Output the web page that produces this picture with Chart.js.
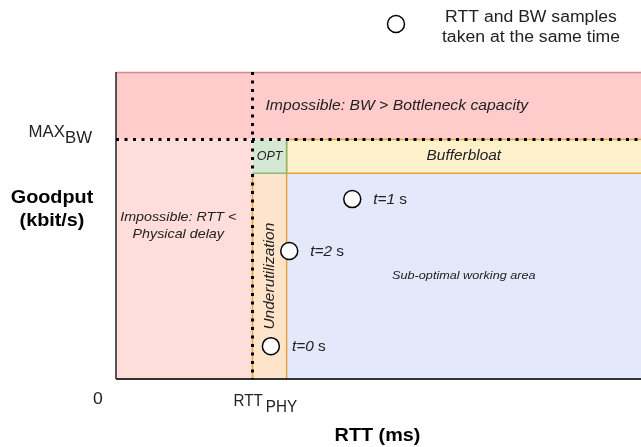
<!DOCTYPE html>
<html>
<head>
<meta charset="utf-8">
<script src="https://cdn.jsdelivr.net/npm/chart.js@4"></script>
<style>
body { margin: 0; background: #fff; }
#wrap { width: 641px; height: 447px; }
</style>
</head>
<body>
<div id="wrap"><canvas id="rttChart" width="641" height="447"></canvas></div>
<script>
// axis ranges (the sketch has no real units, just 0..100)
var rttMax = 100;
var bwMax = 100;

// thresholds
var rttPhy = 26;
var rttOpt = 32.5;
var maxBw = 78;
var bwOpt = 67;

// samples (circles)
var sampleRtt = [29.5, 45, 33];
var sampleBw = [10.7, 58.6, 41.7];
var sampleTime = ["0", "1", "2"];

// tick labels
var xTickVals = [rttPhy];
var xTickMain = ["RTT"];
var xTickSub = ["PHY"];
var yTickVals = [maxBw];
var yTickMain = ["MAX"];
var yTickSub = ["BW"];
var originLabel = "0";

// zones
var zoneNames = ["Impossible: BW > Bottleneck capacity", "Impossible: RTT <|Physical delay", "OPT", "Bufferbloat", "Underutilization", "Sub-optimal working area"];
var zoneX0 = [0, 0, rttPhy, rttOpt, rttPhy, rttOpt];
var zoneX1 = [rttMax, rttPhy, rttOpt, rttMax, rttOpt, rttMax];
var zoneY0 = [maxBw, 0, bwOpt, bwOpt, 0, 0];
var zoneY1 = [bwMax, maxBw, maxBw, maxBw, bwOpt, bwOpt];

var zoneFill = ["#ffcccb", "#ffddda", "#d5e8d4", "#fff0cc", "#ffe4cc", "#e3e8fb"];
var orange = "#e8a33c";
var FONT = '"Liberation Sans", Arial, sans-serif';
var STRETCH = 1.1; // the original text is a bit wide

function dotted(ctx, x1, y1, x2, y2) {
    ctx.save();
    ctx.strokeStyle = "#000";
    ctx.lineWidth = 3;
    ctx.setLineDash([3, 5.5]);
    ctx.beginPath();
    ctx.moveTo(x1, y1);
    ctx.lineTo(x2, y2);
    ctx.stroke();
    ctx.restore();
}

function line(ctx, x1, y1, x2, y2, color, w) {
    ctx.save();
    ctx.strokeStyle = color;
    ctx.lineWidth = w;
    ctx.beginPath();
    ctx.moveTo(x1, y1);
    ctx.lineTo(x2, y2);
    ctx.stroke();
    ctx.restore();
}

// stretched text, returns drawn width
function txt(ctx, s, x, y, align, sx) {
    sx = sx || STRETCH;
    var w = ctx.measureText(s).width * sx;
    var start = x;
    if (align == "center") start = x - w / 2;
    if (align == "right") start = x - w;
    ctx.save();
    ctx.textAlign = "left";
    ctx.translate(start, y);
    ctx.scale(sx, 1);
    ctx.fillText(s, 0, 0);
    ctx.restore();
    return w;
}

// text with subscript
function subText(ctx, main, sub, x, y, align, gap, sx) {
    ctx.font = "16px " + FONT;
    ctx.textBaseline = "alphabetic";
    var w1 = ctx.measureText(main).width * sx;
    var w2 = ctx.measureText(sub).width * sx;
    var start = align == "right" ? x - (w1 + gap + w2) : x;
    txt(ctx, main, start, y, "left", sx);
    txt(ctx, sub, start + w1 + gap, y + 6, "left", sx);
}

var zonePlugin = {
    id: "zones",
    beforeDatasetsDraw: function (chart) {
        var ctx = chart.ctx;
        var xs = chart.scales.x, ys = chart.scales.y;
        var px = function (v) { return xs.getPixelForValue(v); };
        var py = function (v) { return ys.getPixelForValue(v); };

        for (let i = 0; i < zoneNames.length; i++) {
            var x0 = px(zoneX0[i]), x1 = px(zoneX1[i]);
            var y0 = py(zoneY0[i]), y1 = py(zoneY1[i]);
            ctx.fillStyle = zoneFill[i];
            ctx.fillRect(x0, y1, x1 - x0, y0 - y1);
        }

        // borders
        line(ctx, px(0), py(bwMax) + 0.5, px(rttMax), py(bwMax) + 0.5, "#d98a8a", 1.5);
        line(ctx, px(rttOpt), py(maxBw), px(rttMax), py(maxBw), orange, 1.5);
        line(ctx, px(rttOpt), py(bwOpt), px(rttMax), py(bwOpt), orange, 1.5);
        line(ctx, px(rttPhy), py(bwOpt), px(rttPhy), py(0), orange, 1.5);
        line(ctx, px(rttOpt), py(maxBw), px(rttOpt), py(0), orange, 1.5);
        line(ctx, px(rttOpt), py(maxBw), px(rttOpt), py(bwOpt), "#8cba70", 1.5);
        line(ctx, px(rttPhy), py(bwOpt), px(rttOpt), py(bwOpt), "#8cba70", 1.5);

        // axes
        line(ctx, px(0), py(bwMax), px(0), py(0), "#222", 1.5);
        line(ctx, px(0), py(0), px(rttMax), py(0), "#333", 2);

        // dotted limits
        dotted(ctx, px(0), py(maxBw), px(rttMax), py(maxBw));
        dotted(ctx, px(rttPhy), py(bwMax), px(rttPhy), py(0));

        // zone labels
        ctx.fillStyle = "#222";
        ctx.textBaseline = "middle";
        ctx.font = "italic 14.3px " + FONT;
        txt(ctx, zoneNames[0], px(rttPhy) + 13, (py(maxBw) + py(bwMax)) / 2, "left");
        var lines = zoneNames[1].split("|");
        ctx.font = "italic 13px " + FONT;
        txt(ctx, lines[0], (px(0) + px(rttPhy)) / 2 - 6, py(maxBw) + 78, "center");
        txt(ctx, lines[1], (px(0) + px(rttPhy)) / 2 - 6, py(maxBw) + 95, "center");
        ctx.font = "italic 12.5px " + FONT;
        txt(ctx, zoneNames[2], (px(rttPhy) + px(rttOpt)) / 2, (py(maxBw) + py(bwOpt)) / 2, "center", 1);
        ctx.font = "italic 14px " + FONT;
        txt(ctx, zoneNames[3], (px(rttOpt) + px(rttMax)) / 2, (py(maxBw) + py(bwOpt)) / 2, "center");
        ctx.save();
        ctx.translate((px(rttPhy) + px(rttOpt)) / 2, (py(bwOpt) + py(0)) / 2);
        ctx.rotate(-Math.PI / 2);
        ctx.font = "italic 15.5px " + FONT;
        txt(ctx, zoneNames[4], 0, 0, "center", 1);
        ctx.restore();
        ctx.font = "italic 11.5px " + FONT;
        txt(ctx, zoneNames[5], (px(rttOpt) + px(rttMax)) / 2, (py(bwOpt) + py(0)) / 2, "center");
    },
    afterDatasetsDraw: function (chart) {
        var ctx = chart.ctx;
        var meta = chart.getDatasetMeta(0);
        ctx.fillStyle = "#222";
        ctx.textBaseline = "middle";
        for (let i = 0; i < meta.data.length; i++) {
            var p = meta.data[i];
            var x = p.x + 21, y = p.y + 1;
            ctx.font = "italic 14px " + FONT;
            var w = txt(ctx, "t=" + sampleTime[i], x, y, "left");
            ctx.font = "14px " + FONT;
            txt(ctx, " s", x + w, y, "left");
        }
    },
    afterDraw: function (chart) {
        var ctx = chart.ctx;
        var xs = chart.scales.x, ys = chart.scales.y;
        ctx.fillStyle = "#222";

        for (let i = 0; i < xTickVals.length; i++) {
            subText(ctx, xTickMain[i], xTickSub[i], xs.getPixelForValue(xTickVals[i]) - 19, ys.bottom + 27, "left", 3, 0.95);
        }
        for (let i = 0; i < yTickVals.length; i++) {
            subText(ctx, yTickMain[i], yTickSub[i], xs.left - 24, ys.getPixelForValue(yTickVals[i]) - 3, "right", 0, 1.05);
        }
        ctx.font = "16px " + FONT;
        ctx.textBaseline = "middle";
        txt(ctx, originLabel, xs.left - 18, ys.bottom + 21, "center");

        // axis titles
        ctx.fillStyle = "#000";
        ctx.font = "bold 18px " + FONT;
        txt(ctx, "Goodput", 52, 198, "center");
        txt(ctx, "(kbit/s)", 52, 221, "center");
        txt(ctx, "RTT (ms)", (xs.left + xs.right) / 2 - 1, 436, "center");

        // legend
        ctx.beginPath();
        ctx.arc(396, 24, 8.5, 0, Math.PI * 2);
        ctx.fillStyle = "#fff";
        ctx.fill();
        ctx.lineWidth = 1.5;
        ctx.strokeStyle = "#000";
        ctx.stroke();
        ctx.fillStyle = "#222";
        ctx.font = "16px " + FONT;
        txt(ctx, "RTT and BW samples", 531, 18, "center");
        txt(ctx, "taken at the same time", 531, 38, "center");
    }
};

new Chart("rttChart", {
    type: "scatter",
    data: {
        datasets: [{
            data: sampleRtt.map(function (r, i) { return { x: r, y: sampleBw[i] }; }),
            pointRadius: 8.5,
            pointBackgroundColor: "#fff",
            pointBorderColor: "#000",
            pointBorderWidth: 1.5
        }]
    },
    options: {
        responsive: false,
        animation: false,
        layout: { autoPadding: false, padding: { left: 116, top: 72, right: 0, bottom: 68 } },
        scales: {
            x: { type: "linear", min: 0, max: rttMax, display: false },
            y: { type: "linear", min: 0, max: bwMax, display: false }
        },
        plugins: {
            legend: { display: false },
            tooltip: { enabled: false }
        }
    },
    plugins: [zonePlugin]
});
</script>
</body>
</html>
